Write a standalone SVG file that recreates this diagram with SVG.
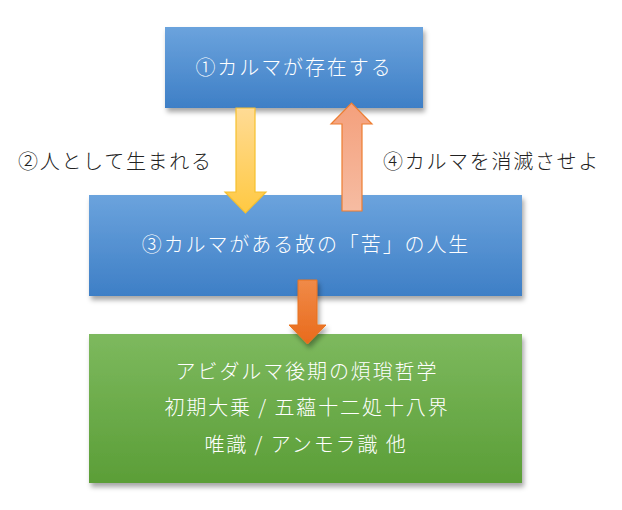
<svg xmlns="http://www.w3.org/2000/svg" width="622" height="510" viewBox="0 0 622 510">
  <defs>
    <linearGradient id="gBlue" x1="0" y1="0" x2="0" y2="1">
      <stop offset="0" stop-color="#6ba3dd"/>
      <stop offset="1" stop-color="#3e7fc6"/>
    </linearGradient>
    <linearGradient id="gGreen" x1="0" y1="0" x2="0" y2="1">
      <stop offset="0" stop-color="#7db95e"/>
      <stop offset="1" stop-color="#5b9e37"/>
    </linearGradient>
    <linearGradient id="gYellow" x1="0" y1="0" x2="0" y2="1">
      <stop offset="0" stop-color="#ffdb95"/>
      <stop offset="1" stop-color="#ffc942"/>
    </linearGradient>
    <linearGradient id="gSalmon" x1="0" y1="0" x2="0" y2="1">
      <stop offset="0" stop-color="#f4a07c"/>
      <stop offset="1" stop-color="#f6bca2"/>
    </linearGradient>
    <linearGradient id="gOrange" x1="0" y1="0" x2="0" y2="1">
      <stop offset="0" stop-color="#f08a48"/>
      <stop offset="1" stop-color="#e96a1c"/>
    </linearGradient>
    <filter id="shadow" x="-10%" y="-10%" width="125%" height="135%">
      <feDropShadow dx="2" dy="4" stdDeviation="2.5" flood-color="#000" flood-opacity="0.35"/>
    </filter>
  </defs>
  <style>
    .box-text { font-family: "Noto Sans CJK JP", "Noto Sans", sans-serif; font-size: 20px; fill: #ffffff; letter-spacing: 1.9px; text-anchor: middle; font-weight: 300; }
    .label { font-family: "Noto Sans CJK JP", "Noto Sans", sans-serif; font-size: 20px; fill: #222222; letter-spacing: 1.7px; font-weight: 300; }
    .narrow { letter-spacing: 0px; }
  </style>
  <rect width="622" height="510" fill="#ffffff"/>

  <g id="node1">
    <rect x="165" y="27" width="258" height="81" fill="url(#gBlue)" filter="url(#shadow)"/>
    <text class="box-text" x="294" y="75">①カルマが存在する</text>
  </g>

  <g id="node3">
    <rect x="89" y="195" width="433" height="101" fill="url(#gBlue)" filter="url(#shadow)"/>
    <text class="box-text" x="306" y="252">③カルマがある故の「苦」の人生</text>
  </g>

  <g id="node-bottom">
    <rect x="89" y="334" width="433" height="149" fill="url(#gGreen)" filter="url(#shadow)"/>
    <text class="box-text" x="307" y="379">アビダルマ後期の煩瑣哲学</text>
    <text class="box-text" x="307" y="415">初期大乗 / 五蘊十二処十八界</text>
    <text class="box-text" x="306" y="452">唯識 / アンモラ識 他</text>
  </g>

  <g id="connectors">
    <path d="M236,108 L255,108 L255,192 L266,192 L245.5,213 L225,192 L236,192 Z" fill="url(#gYellow)" stroke="#f6c02e" stroke-width="1.2"/>
    <path d="M342,211 L362,211 L362,124 L372,124 L351.5,103 L331,124 L342,124 Z" fill="url(#gSalmon)" stroke="#ed7d31" stroke-width="1.2"/>
    <path d="M298,280 L317,280 L317,325 L326,325 L307.5,344 L289,325 L298,325 Z" fill="url(#gOrange)" stroke="#e8731f" stroke-width="1" filter="url(#shadow)"/>
    <text class="label" x="18" y="169">②人として生まれる</text>
    <text class="label" x="383" y="169">④カルマを消滅させよ</text>
  </g>
</svg>
